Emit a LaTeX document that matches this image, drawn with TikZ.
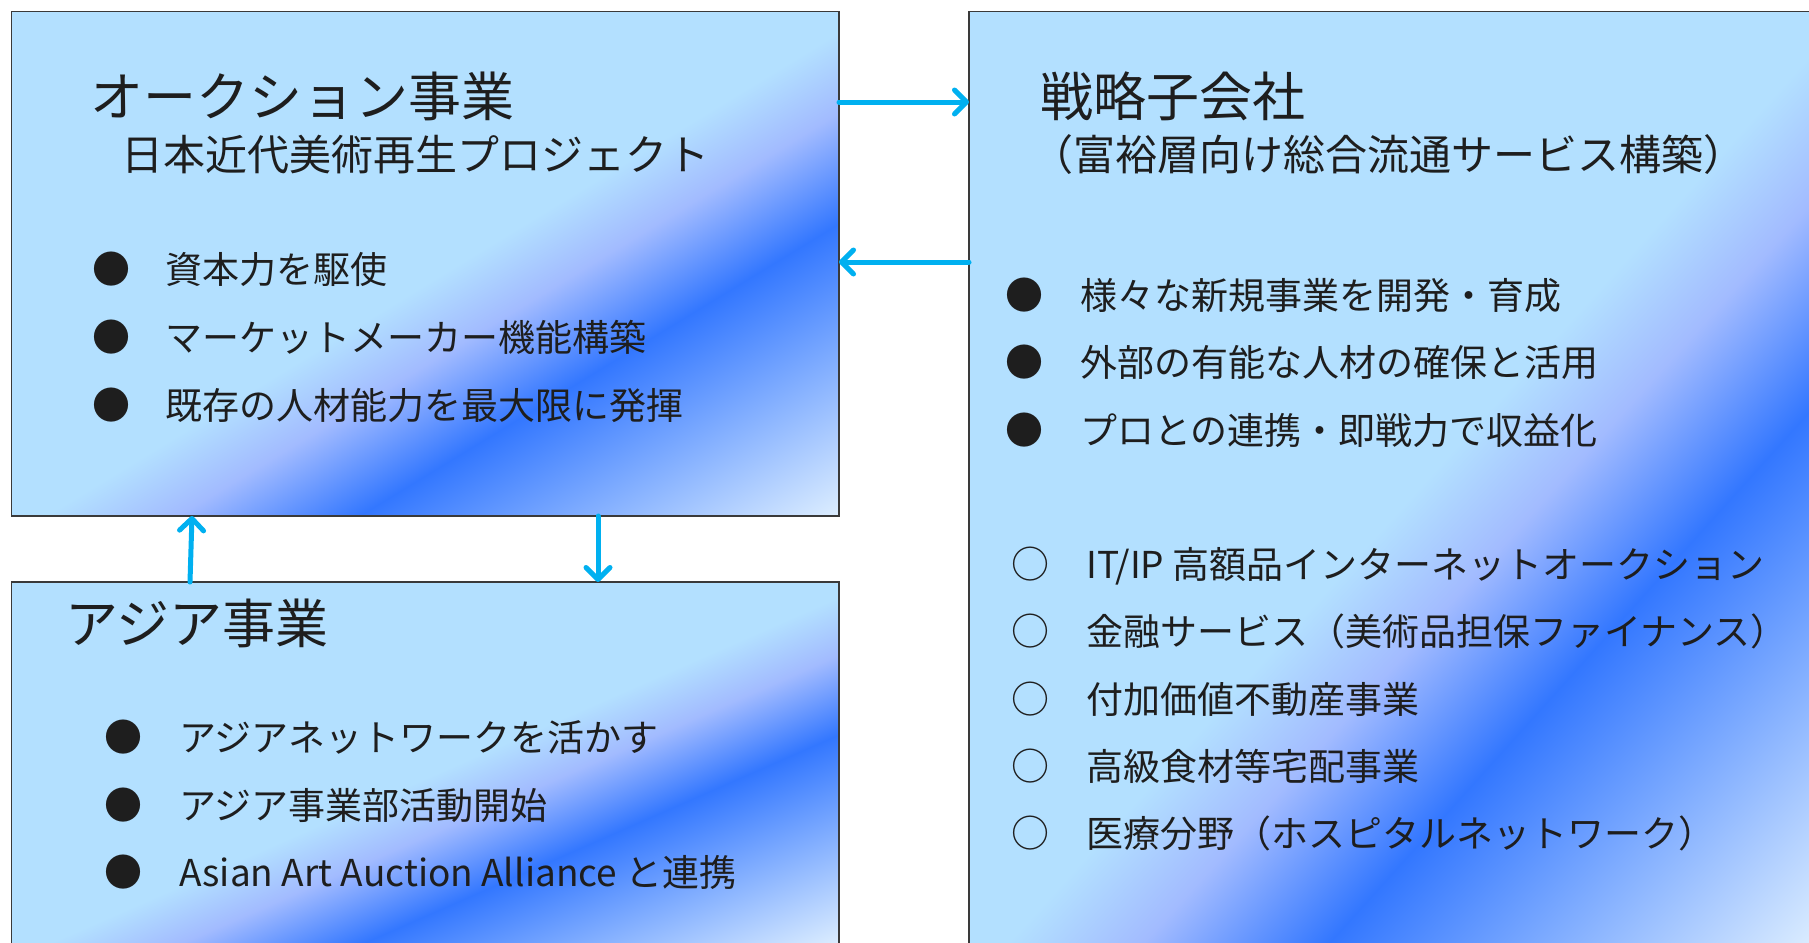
\documentclass[tikz,border=0pt]{standalone}
\usepackage{fontspec}
\setmainfont{Noto Sans CJK JP}
\usetikzlibrary{arrows.meta}
\definecolor{arrowc}{HTML}{00B0F0}
\definecolor{cLight}{HTML}{B3E0FF}
\definecolor{cLav}{HTML}{A2BBFF}
\definecolor{cPeak}{HTML}{3377FF}
\definecolor{cEnd}{HTML}{DDEEFF}
\definecolor{txtc}{HTML}{1E1E1E}
\definecolor{edgec}{HTML}{3A3A3A}
% bp = 25 + 50 t, t = 0 at top-left corner, 1 at bottom-right corner
\pgfdeclareverticalshading{boxshade}{100bp}{color(0bp)=(cLight); color(51bp)=(cLight); color(55bp)=(cLav); color(60.5bp)=(cPeak); color(75bp)=(cEnd); color(100bp)=(cEnd)}
\newcommand\gradbox[4]{%
  \pgfmathsetmacro\gA{2*#3/100}%
  \pgfmathsetmacro\gB{2*#4/100}%
  \pgfmathsetmacro\gC{#3/100}%
  \pgfmathsetmacro\gD{-#4/100}%
  \pgfmathsetmacro\gX{#1-#3}%
  \pgfmathsetmacro\gY{#2-#4}%
  \begin{scope}
    \clip (#1,#2) rectangle ({#1+#3},{#2-#4});
    \begin{scope}[transform canvas={cm={\gA,\gB,\gC,\gD,(\gX,\gY)}}]
      \shade[shading=boxshade] (0,0) rectangle (100,100);
    \end{scope}
  \end{scope}}
\begin{document}
\begin{tikzpicture}[x=1pt,y=1pt,
  box/.style={draw=edgec, line width=1.5pt, rectangle, inner sep=0pt, outer sep=0pt, anchor=north west},
  conn/.style={draw=arrowc, line width=5pt, line cap=round, -{Straight Barb[length=12pt,width=24pt,line width=5pt,round]}},
  ttl/.style={font=\fontsize{53}{60}\selectfont, text=txtc, inner sep=0pt, anchor=west, text height=46.6pt, text depth=6.4pt},
  subt/.style={font=\fontsize{42}{48}\selectfont, text=txtc, inner sep=0pt, anchor=west, text height=37pt, text depth=5pt},
  itm/.style={font=\fontsize{37}{42}\selectfont, text=txtc, inner sep=0pt, anchor=west, text height=32.6pt, text depth=4.4pt},
  bul/.style={font=\fontsize{38}{42}\selectfont, text=txtc, inner sep=0pt, anchor=center, text height=33.4pt, text depth=4.6pt}]
\useasboundingbox (0,0) rectangle (1809,-942);
\clip (0,0) rectangle (1809,-942);
\fill[white] (0,0) rectangle (1809,-942);
% gradient fills of the boxes
\gradbox{11.5}{-11.5}{827.5}{504.5}
\gradbox{969}{-11.5}{846}{936.5}
\gradbox{11.5}{-582}{827.5}{363}
% boxes
\node[box, minimum width=827.5pt, minimum height=504.5pt] (auc) at (11.5,-11.5) {};
\node[box, minimum width=846pt, minimum height=936.5pt] (sub) at (969,-11.5) {};
\node[box, minimum width=827.5pt, minimum height=363pt] (asia) at (11.5,-582) {};
% connectors
\draw[conn] ([yshift=-90.5pt]auc.north east) -- ([yshift=-90.5pt]sub.north west);
\draw[conn] ([yshift=-250.5pt]sub.north west) -- ([yshift=-250.5pt]auc.north east);
\draw[conn] ([xshift=178.5pt]asia.north west) -- ([xshift=180.5pt]auc.south west);
\draw[conn] ([xshift=586.5pt]auc.south west) -- ([xshift=586.5pt]asia.north west);
% box 1 texts
\node[ttl] (aucT) at (90,-96) {オークション事業};
\node[subt] (aucS) at (121,-154) {日本近代美術再生プロジェクト};
\node[bul] (aucB1) at (111,-269) {●};
\node[bul] (aucB2) at (111,-337) {●};
\node[bul] (aucB3) at (111,-405) {●};
\node[itm] (aucI1) at (165,-269) {資本力を駆使};
\node[itm] (aucI2) at (165,-337) {マーケットメーカー機能構築};
\node[itm] (aucI3) at (165,-405) {既存の人材能力を最大限に発揮};
% box 2 texts
\node[ttl] (subT) at (1040,-96) {戦略子会社};
\node[subt] (subS) at (1031,-154) {（富裕層向け総合流通サービス構築）};
\node[bul] (subB1) at (1024.5,-295) {●};
\node[bul] (subB2) at (1024.5,-362) {●};
\node[bul] (subB3) at (1024.5,-430) {●};
\node[itm] (subI1) at (1080,-295) {様々な新規事業を開発・育成};
\node[itm] (subI2) at (1080,-362) {外部の有能な人材の確保と活用};
\node[itm] (subI3) at (1080,-430) {プロとの連携・即戦力で収益化};
\node[bul] (subC1) at (1030,-564) {○};
\node[bul] (subC2) at (1030,-631) {○};
\node[bul] (subC3) at (1030,-699) {○};
\node[bul] (subC4) at (1030,-766) {○};
\node[bul] (subC5) at (1030,-833) {○};
\node[itm] (subJ1) at (1086,-564) {IT/IP 高額品インターネットオークション};
\node[itm] (subJ2) at (1086,-631) {金融サービス（美術品担保ファイナンス）};
\node[itm] (subJ3) at (1086,-699) {付加価値不動産事業};
\node[itm] (subJ4) at (1086,-766) {高級食材等宅配事業};
\node[itm] (subJ5) at (1086,-833) {医療分野（ホスピタルネットワーク）};
% box 3 texts
\node[ttl] (asT) at (65,-623) {アジア事業};
\node[bul] (asB1) at (123.5,-737) {●};
\node[bul] (asB2) at (123.5,-805) {●};
\node[bul] (asB3) at (123.5,-872) {●};
\node[itm] (asI1) at (179,-737) {アジアネットワークを活かす};
\node[itm] (asI2) at (179,-805) {アジア事業部活動開始};
\node[itm] (asI3) at (179,-872) {Asian Art Auction Alliance と連携};
\end{tikzpicture}
\end{document}
